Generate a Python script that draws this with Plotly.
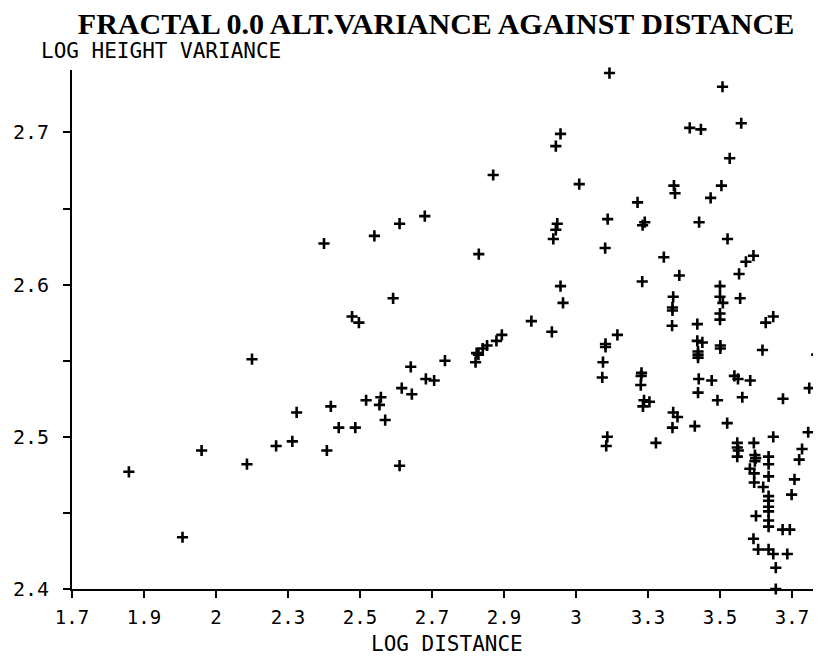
import plotly.graph_objects as go

# log distance / log height variance pairs
log_distance = [
    1.858, 2.007, 2.060, 2.186, 2.267, 2.312, 2.324,
    2.20, 2.40, 2.54, 2.592, 2.61, 2.68, 2.83, 2.87,
    2.478, 2.497, 2.641, 2.736, 2.683, 2.706, 2.616, 2.644, 2.517, 2.558,
    2.554, 2.570, 2.419, 2.441, 2.487, 2.408, 2.610, 2.821, 2.824, 2.829,
    2.841, 2.853, 2.879, 2.894, 2.976, 3.033, 3.064,
    3.193, 3.507, 3.559, 3.416, 3.447, 3.057, 3.044, 3.527, 3.109, 3.372,
    3.375, 3.504, 3.474, 3.271, 3.188, 3.048, 3.044, 3.037, 3.291, 3.285,
    3.442, 3.521, 3.181, 3.344, 3.593, 3.572,
    3.553, 3.387, 3.284, 3.057, 3.370, 3.368, 3.368, 3.367, 3.500, 3.500,
    3.508, 3.556, 3.500, 3.500, 3.627, 3.648, 3.437, 3.215, 3.182, 3.182,
    3.175, 3.173, 3.437, 3.451, 3.439, 3.439, 3.439, 3.501, 3.501, 3.618,
    3.769, 3.282, 3.281, 3.280, 3.289, 3.304, 3.286, 3.441, 3.477, 3.540,
    3.550, 3.584, 3.439, 3.493, 3.562, 3.675, 3.748, 3.370, 3.382, 3.368,
    3.430, 3.520, 3.648, 3.745, 3.187, 3.184, 3.322, 3.594, 3.728,
    3.548, 3.548, 3.551, 3.548, 3.597, 3.599, 3.597, 3.583, 3.595, 3.595,
    3.635, 3.635, 3.635, 3.620, 3.635, 3.635, 3.635, 3.635, 3.635, 3.635,
    3.600, 3.674, 3.694, 3.593, 3.606, 3.635, 3.648, 3.687, 3.655, 3.655,
    3.699, 3.707, 3.720,
]
log_height_var = [
    2.477, 2.434, 2.491, 2.482, 2.494, 2.497, 2.516,
    2.551, 2.627, 2.632, 2.591, 2.640, 2.645, 2.620, 2.672,
    2.579, 2.575, 2.546, 2.550, 2.538, 2.537, 2.532, 2.528, 2.524, 2.526,
    2.521, 2.511, 2.520, 2.506, 2.506, 2.491, 2.481, 2.549, 2.555, 2.554,
    2.558, 2.560, 2.563, 2.567, 2.576, 2.569, 2.588,
    2.739, 2.730, 2.706, 2.703, 2.702, 2.699, 2.691, 2.683, 2.666, 2.665,
    2.660, 2.665, 2.657, 2.654, 2.643, 2.640, 2.636, 2.630, 2.641, 2.639,
    2.641, 2.630, 2.624, 2.618, 2.619, 2.615,
    2.607, 2.606, 2.602, 2.599, 2.592, 2.585, 2.583, 2.573, 2.599, 2.592,
    2.588, 2.591, 2.581, 2.577, 2.575, 2.579, 2.574, 2.567, 2.561, 2.559,
    2.549, 2.539, 2.563, 2.562, 2.556, 2.554, 2.552, 2.560, 2.558, 2.557,
    2.554, 2.542, 2.540, 2.534, 2.524, 2.523, 2.520, 2.538, 2.537, 2.540,
    2.538, 2.537, 2.529, 2.524, 2.526, 2.525, 2.532, 2.516, 2.513, 2.506,
    2.507, 2.509, 2.500, 2.503, 2.500, 2.494, 2.496, 2.496, 2.492,
    2.496, 2.493, 2.491, 2.487, 2.488, 2.486, 2.484, 2.479, 2.476, 2.470,
    2.487, 2.482, 2.474, 2.467, 2.461, 2.458, 2.454, 2.451, 2.445, 2.441,
    2.448, 2.439, 2.439, 2.433, 2.426, 2.426, 2.423, 2.423, 2.414, 2.400,
    2.462, 2.472, 2.485,
]

x_ticks = [1.7, 1.9, 2.1, 2.3, 2.5, 2.7, 2.9, 3.1, 3.3, 3.5, 3.7]
x_labels = ["1.7", "1.9", "2", "2.3", "2.5", "2.7", "2.9", "3", "3.3", "3.5", "3.7"]
y_ticks = [2.4, 2.5, 2.6, 2.7]
y_labels = ["2.4", "2.5", "2.6", "2.7"]

mono = "DejaVu Sans Mono"

fig = go.Figure()
fig.add_trace(go.Scatter(
    x=log_distance,
    y=log_height_var,
    mode="markers",
    cliponaxis=False,
    marker=dict(symbol="cross-thin", size=8, line=dict(color="black", width=2.6)),
    showlegend=False,
))

# the page body adds an 8px margin, so the figure is 8px smaller on each side
fig.update_layout(
    width=813,
    height=649,
    margin=dict(l=64, r=0, t=62, b=68, autoexpand=False),
    paper_bgcolor="white",
    plot_bgcolor="white",
    font=dict(family=mono, size=19, color="black"),
    title=dict(
        text="FRACTAL 0.0 ALT.VARIANCE AGAINST DISTANCE",
        x=0.486, xref="paper", xanchor="center",
        y=0.976, yref="container", yanchor="middle",
        font=dict(family="Liberation Serif", size=30, color="black", weight="bold"),
    ),
)

fig.update_xaxes(
    range=[1.7, 3.7806],
    tickvals=x_ticks,
    ticktext=x_labels,
    ticks="outside",
    ticklen=7,
    tickwidth=2,
    tickcolor="black",
    ticklabelstandoff=3,
    automargin=False,
    showline=True,
    linecolor="black",
    linewidth=2,
    showgrid=False,
    zeroline=False,
)
fig.update_yaxes(
    range=[2.4, 2.741],
    tickvals=y_ticks,
    ticktext=y_labels,
    tickfont=dict(size=20),
    ticks="outside",
    ticklen=7,
    tickwidth=2,
    tickcolor="black",
    ticklabelstandoff=10,
    automargin=False,
    minor=dict(dtick=0.05, tick0=2.4, ticks="outside", ticklen=7, tickwidth=2, tickcolor="black"),
    showline=True,
    linecolor="black",
    linewidth=2,
    showgrid=False,
    zeroline=False,
)

fig.add_annotation(
    text="LOG HEIGHT VARIANCE",
    xref="paper", yref="paper", x=-0.044, y=1.0366,
    xanchor="left", yanchor="middle", showarrow=False,
    font=dict(family=mono, size=21, color="black"),
)
fig.add_annotation(
    text="LOG DISTANCE",
    xref="paper", yref="paper", x=0.5, y=-0.106,
    xanchor="center", yanchor="middle", showarrow=False,
    font=dict(family=mono, size=21, color="black"),
)

fig.write_html("out.html")
